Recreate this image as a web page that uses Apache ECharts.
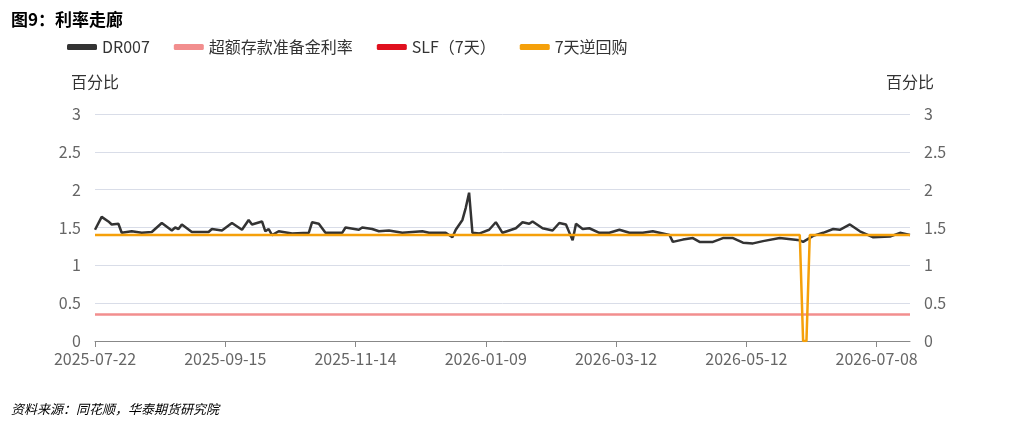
<!DOCTYPE html>
<html><head><meta charset="utf-8">
<script src="https://cdn.jsdelivr.net/npm/echarts@6/dist/echarts.min.js"></script>
<style>html,body{margin:0;padding:0;background:#fff}#c{width:1026px;height:426px}</style>
</head><body><div id="c"></div>
<script>
const tickLabels = ['2025-07-22','2025-09-15','2025-11-14','2026-01-09','2026-03-12','2026-05-12','2026-07-08'];
const categoryCount = 245;
const dr007 = [[0,1.47],[2,1.64],[4,1.58],[5,1.54],[7,1.55],[8,1.43],[11,1.45],[14,1.43],[17,1.44],[20,1.56],[23,1.46],[24,1.5],[25,1.48],[26,1.54],[29,1.44],[34,1.44],[35,1.48],[38,1.46],[41,1.56],[44,1.47],[46,1.6],[47,1.54],[50,1.58],[51,1.45],[52,1.48],[53,1.4],[55,1.45],[59,1.42],[64,1.43],[65,1.57],[67,1.55],[69,1.43],[74,1.43],[75,1.5],[79,1.47],[80,1.5],[83,1.48],[85,1.45],[88,1.46],[92,1.43],[98,1.45],[100,1.43],[105,1.43],[107,1.37],[108,1.47],[110,1.6],[111,1.76],[112,1.96],[113,1.43],[115,1.42],[118,1.47],[120,1.57],[122,1.43],[126,1.49],[128,1.57],[130,1.55],[131,1.58],[134,1.49],[137,1.46],[139,1.56],[141,1.54],[143,1.33],[144,1.55],[146,1.48],[148,1.49],[151,1.43],[154,1.43],[157,1.47],[160,1.43],[164,1.43],[167,1.45],[172,1.4],[173,1.31],[176,1.34],[179,1.36],[181,1.31],[185,1.31],[188,1.36],[191,1.36],[194,1.3],[197,1.29],[200,1.32],[205,1.36],[209,1.34],[211,1.33],[212,1.31],[215,1.39],[218,1.43],[221,1.48],[223,1.47],[226,1.54],[229,1.45],[230,1.43],[233,1.37],[238,1.38],[241,1.43],[242,1.42],[244,1.4]];
const reserveRate = [[0,0.35],[244,0.35]];
const slf = [];
const reverseRepo = [[0,1.4],[211,1.4],[212,0],[213,0],[214,1.4],[244,1.4]];
const yTicks = [0,0.5,1,1.5,2,2.5,3];

const cats = Array.from({length:categoryCount},(_,i)=>String(i));
const chart = echarts.init(document.getElementById('c'));
const lab = {color:'#666',fontSize:16,fontFamily:'Noto Sans CJK SC'};
const yAx = (pos)=>({type:'value',position:pos,min:0,max:3,interval:0.5,
  name:'百分比',nameLocation:'end',nameGap:24,nameTextStyle:{color:'#333',fontSize:16,fontFamily:'Noto Sans CJK SC',align:pos==='left'?'center':'center'},
  axisLine:{show:false},axisTick:{show:false},
  axisLabel:{...lab,margin:14,formatter:v=>String(v)},
  splitLine:{show:pos==='left',lineStyle:{color:'#d9dde8'}}});
const mk=(name,data,color,w)=>({name,type:'line',data,symbol:'none',lineStyle:{color,width:w},itemStyle:{color},yAxisIndex:0,animation:false});
chart.setOption({
  animation:false,
  title:[{text:'图9：利率走廊',left:6,top:6,textStyle:{fontSize:17,fontWeight:'bold',color:'#000',fontFamily:'Noto Sans CJK SC'}},
         {text:'资料来源：同花顺，华泰期货研究院',left:6,top:398,textStyle:{fontSize:13,fontStyle:'italic',fontWeight:'normal',color:'#000',fontFamily:'Noto Sans CJK SC'}}],
  legend:{left:62,top:34,itemWidth:30,itemHeight:6,itemGap:24,icon:'roundRect',textStyle:{color:'#333',fontSize:16,fontFamily:'Noto Sans CJK SC'},
    data:['DR007','超额存款准备金利率','SLF（7天）','7天逆回购']},
  grid:{left:95,right:116,top:114,bottom:85},
  xAxis:{type:'category',data:cats,boundaryGap:false,
    axisLine:{lineStyle:{color:'#888'}},
    axisTick:{interval:38,length:6,lineStyle:{color:'#888'}},
    axisLabel:{...lab,interval:38,margin:10,formatter:(v,i)=>tickLabels[i/39]||''}},
  yAxis:[yAx('left'),yAx('right')],
  series:[mk('DR007',dr007,'#333333',2.5),mk('超额存款准备金利率',reserveRate,'#f28e8e',2.5),mk('SLF（7天）',slf,'#e0101e',2.5),mk('7天逆回购',reverseRepo,'#f5a00a',2.5)]
});
</script></body></html>
